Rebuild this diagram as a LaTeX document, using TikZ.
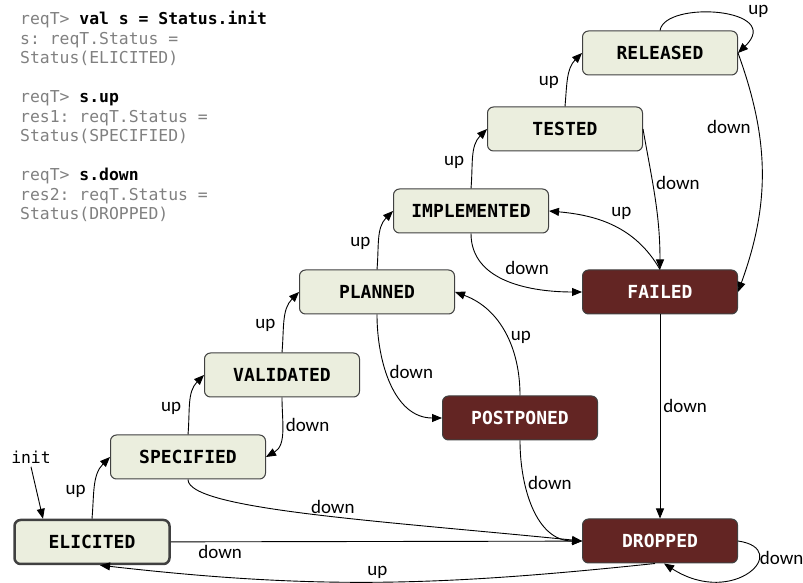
\documentclass[tikz,border=0pt]{standalone}
\usepackage{fontspec}
\setmonofont{DejaVu Sans Mono}
\newfontfamily\labelfont{Carlito}
\usetikzlibrary{arrows.meta}
\usetikzlibrary{positioning}

\definecolor{statefill}{HTML}{EBEEDE}
\definecolor{deadfill}{HTML}{632523}
\definecolor{codegray}{HTML}{808080}

\tikzset{
  state/.style={draw=black!75, fill=statefill, rounded corners=6pt,
    minimum width=155pt, minimum height=44pt, line width=1pt,
    font=\ttfamily\bfseries\fontsize{18}{20}\selectfont},
  deadstate/.style={state, fill=deadfill, text=white},
  trans/.style={-{Triangle[length=10pt,width=8pt]}, line width=0.9pt},
  lbl/.style={font=\labelfont\fontsize{19}{21}\selectfont, inner sep=3pt},
}

\begin{document}
\begin{tikzpicture}[x=1pt, y=1pt]
    \useasboundingbox (0,0) rectangle (803,583);

    %REPL session
    \node (repl) [anchor=north west, align=left, inner sep=0pt, text=codegray,
      font=\ttfamily\fontsize{16.4}{19.5}\selectfont] at (20,572)
      {reqT> {\color{black}\bfseries val s = Status.init}\\
       s: reqT.Status =\\
       Status(ELICITED)\\[19.5pt]
       reqT> {\color{black}\bfseries s.up}\\
       res1: reqT.Status =\\
       Status(SPECIFIED)\\[19.5pt]
       reqT> {\color{black}\bfseries s.down}\\
       res2: reqT.Status =\\
       Status(DROPPED)};

    %States going up
    \node[state, line width=2.5pt] (elicited) at ( 92, 41) {ELICITED};
    \node[state] (specified)   at (188,126) {SPECIFIED};
    \node[state] (validated)   at (282,208) {VALIDATED};
    \node[state] (planned)     at (377,291) {PLANNED};
    \node[state] (implemented) at (471,372) {IMPLEMENTED};
    \node[state] (tested)      at (565,454) {TESTED};
    \node[state] (released)    at (660,530) {RELEASED};

    %States going down
    \node[deadstate] (failed)    at (660,291) {FAILED};
    \node[deadstate] (postponed) at (520,165) {POSTPONED};
    \node[deadstate] (dropped)   at (660, 42) {DROPPED};

    %Start
    \node (init) [font=\ttfamily\fontsize{16.4}{19.5}\selectfont] at (31,126) {init};
    \draw[trans] (init.south) -- ([xshift=-49pt]elicited.north);

    %Up the ladder
    \draw[trans] (elicited.north) to[out=85, in=225] node[lbl, pos=0.4, left=5pt] {up} (specified.west);
    \draw[trans] (specified.north) to[out=85, in=225] node[lbl, pos=0.4, left=5pt] {up} (validated.west);
    \draw[trans] (validated.north) to[out=85, in=225] node[lbl, pos=0.4, left=5pt] {up} (planned.west);
    \draw[trans] (planned.north) to[out=85, in=225] node[lbl, pos=0.4, left=5pt] {up} (implemented.west);
    \draw[trans] (implemented.north) to[out=85, in=225] node[lbl, pos=0.4, left=5pt] {up} (tested.west);
    \draw[trans] (tested.north) to[out=85, in=225] node[lbl, pos=0.4, left=5pt] {up} (released.west);
    \draw[trans] (released.north) .. controls (665,583) and (785,575) .. node[lbl, pos=0.6, xshift=26pt, yshift=5pt] {up} (released.east);

    %Down from the top
    \draw[trans] (released.east) to[out=-70, in=70] node[lbl, pos=0.3, left=4pt] {down} (failed.east);
    \draw[trans] (tested.east) to[out=-80, in=90] node[lbl, pos=0.38, right] {down} (failed.north);
    \draw[trans] (failed.north) to[out=120, in=-5] node[lbl, pos=0.55, above right] {up} (implemented.east);
    \draw[trans] (implemented.south) to[out=-90, in=180] node[lbl, pos=0.45, above right] {down} (failed.west);
    \draw[trans] (planned.south) to[out=-90, in=180] node[lbl, pos=0.4, right] {down} (postponed.west);
    \draw[trans] (postponed.north) to[out=90, in=-20] node[lbl, pos=0.45, right] {up} (planned.east);
    \draw[trans] (validated.south) to[out=-90, in=30] node[lbl, pos=0.4, right] {down} (specified.east);

    %Into dropped
    \draw[trans] (failed) -- node[lbl, pos=0.45, right] {down} (dropped);
    \draw[trans] (postponed.south) to[out=-90, in=180] node[lbl, pos=0.3, right] {down} (dropped.west);
    \draw[trans] (specified.south) .. controls +(0,-30) and +(-200,20) .. node[lbl, pos=0.55, above] {down} (dropped.west);
    \draw[trans] (elicited) -- node[lbl, pos=0.12, below] {down} (dropped);
    \draw[trans] ([xshift=-5pt]dropped.south) to[out=186, in=-6.5] node[lbl, pos=0.5, above] {up} ([xshift=8pt]elicited.south);
    \draw[trans] (dropped.east) .. controls +(55,-8) and +(70,-45) .. node[lbl, pos=0.3, anchor=west, inner sep=0pt] {down} ([xshift=4pt]dropped.south);
\end{tikzpicture}
\end{document}
